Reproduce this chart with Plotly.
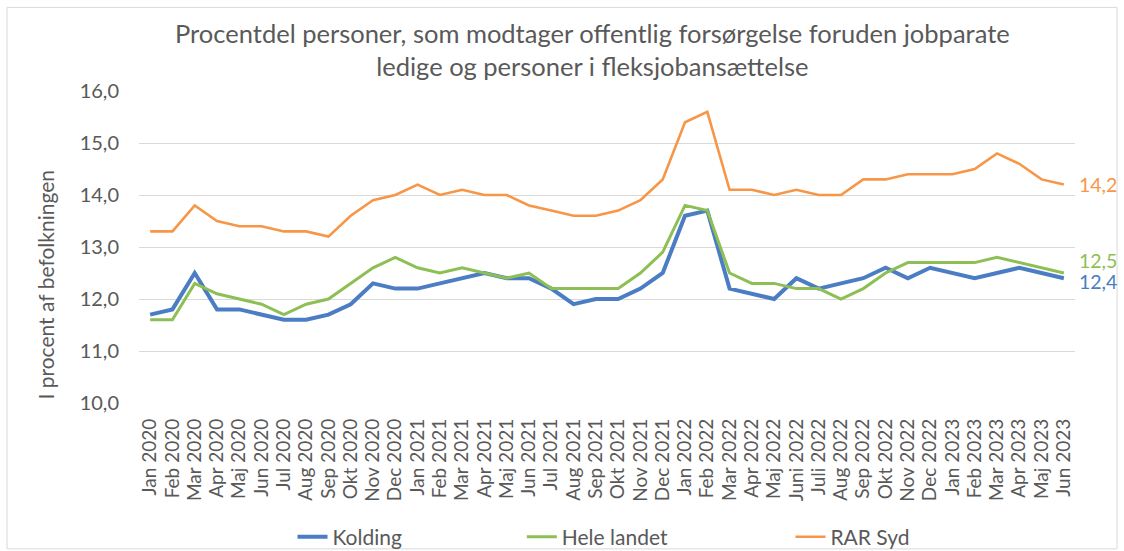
import plotly.graph_objects as go

months = ["Jan 2020", "Feb 2020", "Mar 2020", "Apr 2020", "Maj 2020", "Jun 2020", "Jul 2020",
          "Aug 2020", "Sep 2020", "Okt 2020", "Nov 2020", "Dec 2020",
          "Jan 2021", "Feb 2021", "Mar 2021", "Apr 2021", "Maj 2021", "Jun 2021", "Jul 2021",
          "Aug 2021", "Sep 2021", "Okt 2021", "Nov 2021", "Dec 2021",
          "Jan 2022", "Feb 2022", "Mar 2022", "Apr 2022", "Maj 2022", "Juni 2022", "Juli 2022",
          "Aug 2022", "Sep 2022", "Okt 2022", "Nov 2022", "Dec 2022",
          "Jan 2023", "Feb 2023", "Mar 2023", "Apr 2023", "Maj 2023", "Jun 2023"]

kolding = [11.7, 11.8, 12.5, 11.8, 11.8, 11.7, 11.6, 11.6, 11.7, 11.9, 12.3, 12.2,
           12.2, 12.3, 12.4, 12.5, 12.4, 12.4, 12.2, 11.9, 12.0, 12.0, 12.2, 12.5,
           13.6, 13.7, 12.2, 12.1, 12.0, 12.4, 12.2, 12.3, 12.4, 12.6, 12.4, 12.6,
           12.5, 12.4, 12.5, 12.6, 12.5, 12.4]

hele_landet = [11.6, 11.6, 12.3, 12.1, 12.0, 11.9, 11.7, 11.9, 12.0, 12.3, 12.6, 12.8,
               12.6, 12.5, 12.6, 12.5, 12.4, 12.5, 12.2, 12.2, 12.2, 12.2, 12.5, 12.9,
               13.8, 13.7, 12.5, 12.3, 12.3, 12.2, 12.2, 12.0, 12.2, 12.5, 12.7, 12.7,
               12.7, 12.7, 12.8, 12.7, 12.6, 12.5]

rar_syd = [13.3, 13.3, 13.8, 13.5, 13.4, 13.4, 13.3, 13.3, 13.2, 13.6, 13.9, 14.0,
           14.2, 14.0, 14.1, 14.0, 14.0, 13.8, 13.7, 13.6, 13.6, 13.7, 13.9, 14.3,
           15.4, 15.6, 14.1, 14.1, 14.0, 14.1, 14.0, 14.0, 14.3, 14.3, 14.4, 14.4,
           14.4, 14.5, 14.8, 14.6, 14.3, 14.2]

y_ticks = [10, 11, 12, 13, 14, 15, 16]
y_tick_labels = ["10,0", "11,0", "12,0", "13,0", "14,0", "15,0", "16,0"]

series = [
    # name, values, color, width, label yshift, legend id, legend x
    ("Kolding", kolding, "#4A7DC3", 4, -3, "legend", 0.164),
    ("Hele landet", hele_landet, "#8DBF55", 3, 13, "legend2", 0.409),
    ("RAR Syd", rar_syd, "#F79646", 2.6, 0, "legend3", 0.696),
]

FONT = "Lato, 'Open Sans', Arial, sans-serif"
GREY = "#595959"

fig = go.Figure()
for name, vals, color, width, _, leg, _lx in series:
    fig.add_trace(go.Scatter(
        x=months, y=vals, name=name, mode="lines", showlegend=True,
        line=dict(color=color, width=width), legend=leg,
    ))

for name, vals, color, width, yshift, _, _lx in series:
    fig.add_annotation(
        x=months[-1], y=vals[-1], xref="x", yref="y",
        text=f"{vals[-1]:.1f}".replace(".", ","),
        showarrow=False, xanchor="left", xshift=13, yshift=yshift,
        font=dict(family=FONT, size=19.5, color=color),
    )

# y-axis title as annotation (positioned like the reference)
fig.add_annotation(
    text="I procent af befolkningen", xref="paper", yref="paper",
    x=-0.100, y=0.381, xanchor="center", yanchor="middle", textangle=-90,
    showarrow=False, font=dict(family=FONT, size=21, color=GREY),
)

legend_common = dict(orientation="h", y=-0.43, yanchor="middle", xanchor="left",
                     bgcolor="rgba(0,0,0,0)", visible=True,
                     font=dict(family=FONT, size=21, color=GREY))
legends = {}
for name, vals, color, width, yshift, leg, lx in series:
    legends[leg] = dict(x=lx, **legend_common)

fig.update_layout(
    width=1124, height=551, showlegend=True,
    paper_bgcolor="white", plot_bgcolor="white",
    margin=dict(l=139, r=49, t=91, b=148, autoexpand=False),
    font=dict(family=FONT, color=GREY),
    title=dict(
        text="Procentdel personer, som modtager offentlig forsørgelse foruden jobparate<br>ledige og personer i fleksjobansættelse",
        xref="container", x=0.527, xanchor="center",
        yref="container", y=0.922, yanchor="middle",
        font=dict(family=FONT, size=25.5, color=GREY),
    ),
    shapes=[dict(type="rect", xref="paper", yref="paper",
                 x0=-0.141, x1=1.0449, y0=-0.4675, y1=1.268,
                 line=dict(color="#D9D9D9", width=1))],
    **legends,
)

fig.update_xaxes(
    type="category", range=[-0.5, len(months) - 0.5], autorange=False,
    tickmode="array", tickvals=months, ticktext=months,
    tickangle=-90, showgrid=False, showline=False, automargin=False,
    tickfont=dict(family=FONT, size=19, color=GREY), ticks="", ticklabelstandoff=11,
)
fig.update_yaxes(
    range=[10, 16], tickvals=y_ticks, ticktext=y_tick_labels, automargin=False,
    showgrid=True, gridcolor="#D9D9D9", gridwidth=1, zeroline=False,
    tickfont=dict(family=FONT, size=20, color=GREY), ticks="", ticklabelstandoff=19,
)

fig.write_html(
    "out.html",
    config={"displayModeBar": False},
    post_script="document.body.style.margin='0';document.body.style.overflow='hidden';",
)
